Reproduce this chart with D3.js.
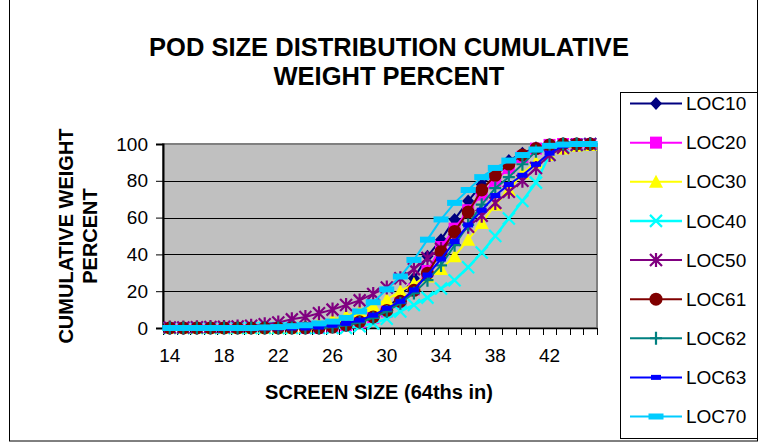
<!DOCTYPE html>
<html><head><meta charset="utf-8">
<script src="https://cdn.jsdelivr.net/npm/d3@7"></script>
<style>body{margin:0;background:#fff}svg{display:block}text{font-family:Arial,"Liberation Sans",sans-serif}</style>
</head><body>
<script>
const categories = [14,15,16,17,18,19,20,21,22,23,24,25,26,27,28,29,30,31,32,33,34,35,36,37,38,39,40,41,42,43,44,45];
const xTickLabels = [14,18,22,26,30,34,38,42];
const yTickValues = [0,20,40,60,80,100];
const seriesNames = ["LOC10","LOC20","LOC30","LOC40","LOC50","LOC61","LOC62","LOC63","LOC70"];
const LOC10 = [0,0,0,0,0,0,0,0,0,0,0,0,0.5,1.5,3.5,6.5,11,17,27,39,48,59,69,78,85,91,95,98,99.5,100,100,100];
const LOC20 = [0,0,0,0,0,0,0,0,0,0,0,0,0.5,1.5,3,5.5,9,14,21,31,44,54,64,72.5,80,87,93,97.5,99.5,100,100,100];
const LOC30 = [0,0,0,0,0,0,0,0,0,0,1,2.5,4.5,6.5,9,12,15.5,20,24,28,32,39,48,57,67,75,84,90,94,97.5,99,99.5];
const LOC40 = [0,0,0,0,0,0,0,0,0,0,0,0,0,0,1,2.5,5,9,12.5,16.5,21.5,26,33,41,50,59.5,69,79,94,98.5,99.5,100];
const LOC50 = [0.3,0.3,0.4,0.5,0.6,0.8,1.2,2,3,4.7,6,8,10,12.5,15,18.5,22,27,32,38,43,48,55,61,68,74,80,87,94,98,99.5,100];
const LOC61 = [0,0,0,0,0,0,0,0,0,0,0,0,0.5,1.5,3.4,6,9.5,14.5,20.5,29.7,41.5,52.5,63,75,83,89,94,97.5,99.5,100,100,100];
const LOC62 = [0,0,0,0,0,0,0,0,0,0,0,0,0.5,1.5,3,5.5,9,13.5,19,26,34,45,56,67,76,82,89,96,99.5,100,100,100];
const LOC63 = [0,0,0,0,0,0,0,0,0,0,0,0.5,1.5,2.5,4.3,7,10.7,14.5,20.7,28.8,37.5,47,56,64,72,78,83,89,95,99,100,100];
const LOC70 = [0,0,0,0,0,0,0,0.3,0.5,1,1.5,2.5,3.5,5.5,9,14,21,28,37,48,59,68,75,82,87,91,94,97,99,99.7,100,100];
const seriesValues = [LOC10,LOC20,LOC30,LOC40,LOC50,LOC61,LOC62,LOC63,LOC70];
const colors = ["#000080","#FF00FF","#FFFF00","#00FFFF","#800080","#800000","#008080","#0000FF","#00CCFF"];
const markerTypes = ["diamond","square","triangle","x","asterisk","circle","plus","smallbar","bigbar"];

const W = 761, H = 444;
const svg = d3.select("body").append("svg").attr("width", W).attr("height", H);

// outer chart border
svg.append("rect").attr("x", 9.5).attr("y", -1).attr("width", 748).attr("height", 442)
  .attr("fill", "#fff").attr("stroke", "#000").attr("stroke-width", 1);

const plot = {left: 163, right: 597, top: 144, bottom: 328};
const x = d3.scaleBand().domain(categories).range([plot.left, plot.right]).padding(0);
const y = d3.scaleLinear().domain([0, 100]).range([plot.bottom, plot.top]);
const cx = c => x(c) + x.bandwidth() / 2;

// plot area
svg.append("rect").attr("x", plot.left).attr("y", plot.top)
  .attr("width", plot.right - plot.left).attr("height", plot.bottom - plot.top)
  .attr("fill", "#C0C0C0").attr("stroke", "#808080").attr("stroke-width", 2);

// gridlines
svg.append("g").selectAll("line").data(yTickValues.filter(v => v > 0 && v < 100)).join("line")
  .attr("x1", plot.left).attr("x2", plot.right)
  .attr("y1", d => Math.round(y(d)) + 0.5).attr("y2", d => Math.round(y(d)) + 0.5)
  .attr("stroke", "#000").attr("stroke-width", 1);

// y axis
const yAxis = svg.append("g").attr("transform", `translate(${plot.left},0)`)
  .call(d3.axisLeft(y).tickValues(yTickValues).tickSize(7).tickPadding(8).tickFormat(d3.format("d")));
yAxis.select(".domain").attr("stroke", "#000").attr("stroke-width", 2);
yAxis.selectAll(".tick line").attr("stroke", "#000");
yAxis.selectAll("text").attr("font-size", 19).attr("fill", "#000").attr("font-family", "Arial, 'Liberation Sans', sans-serif");

// x axis
const xAxis = svg.append("g").attr("transform", `translate(0,${plot.bottom})`)
  .call(d3.axisBottom(x).tickValues(xTickLabels).tickSize(0).tickPadding(21));
xAxis.select(".domain").attr("stroke", "#000").attr("stroke-width", 1.5);
xAxis.selectAll("text").attr("font-size", 19).attr("fill", "#000").attr("font-family", "Arial, 'Liberation Sans', sans-serif");
const bounds = categories.map(c => x(c)).concat([plot.right]);
svg.append("g").selectAll("line").data(bounds).join("line")
  .attr("x1", d => Math.round(d) + 0.5).attr("x2", d => Math.round(d) + 0.5)
  .attr("y1", plot.bottom).attr("y2", plot.bottom + 7)
  .attr("stroke", "#000").attr("stroke-width", 1);

// marker drawing
function drawMarker(g, type, color, px, py) {
  switch (type) {
    case "diamond":
      g.append("path").attr("d", `M${px},${py-6.5}L${px+6},${py}L${px},${py+6.5}L${px-6},${py}Z`).attr("fill", color); break;
    case "square":
      g.append("rect").attr("x", px-6).attr("y", py-6).attr("width", 12).attr("height", 12).attr("fill", color); break;
    case "triangle":
      g.append("path").attr("d", `M${px},${py-7}L${px+7},${py+6}L${px-7},${py+6}Z`).attr("fill", color); break;
    case "x":
      g.append("path").attr("d", `M${px-6},${py-6}L${px+6},${py+6}M${px+6},${py-6}L${px-6},${py+6}`)
        .attr("stroke", color).attr("stroke-width", 2.2).attr("fill", "none"); break;
    case "asterisk":
      g.append("path").attr("d", `M${px-6},${py-6}L${px+6},${py+6}M${px+6},${py-6}L${px-6},${py+6}M${px},${py-7}L${px},${py+7}`)
        .attr("stroke", color).attr("stroke-width", 2.2).attr("fill", "none"); break;
    case "circle":
      g.append("circle").attr("cx", px).attr("cy", py).attr("r", 6.5).attr("fill", color); break;
    case "plus":
      g.append("path").attr("d", `M${px-6},${py}L${px+6},${py}M${px},${py-6.5}L${px},${py+6.5}`)
        .attr("stroke", color).attr("stroke-width", 2.2).attr("fill", "none"); break;
    case "smallbar":
      g.append("rect").attr("x", px-5).attr("y", py-2.5).attr("width", 10).attr("height", 5).attr("fill", color); break;
    case "bigbar":
      g.append("rect").attr("x", px-7.5).attr("y", py-3).attr("width", 15).attr("height", 6).attr("fill", color); break;
  }
}

const line = d3.line().x((d, i) => cx(categories[i])).y(d => y(d));
seriesValues.forEach((vals, si) => {
  const g = svg.append("g");
  g.append("path").datum(vals).attr("d", line).attr("fill", "none")
    .attr("stroke", colors[si]).attr("stroke-width", si === 3 ? 2.5 : 2);
  vals.forEach((v, i) => drawMarker(g, markerTypes[si], colors[si], cx(categories[i]), y(v)));
});

// legend
const lg = svg.append("g");
lg.append("rect").attr("x", 620.5).attr("y", 92.5).attr("width", 137).attr("height", 346)
  .attr("fill", "#fff").attr("stroke", "#000").attr("stroke-width", 1);
const legY = d3.scalePoint().domain(seriesNames).range([103.5, 416.5]);
seriesNames.forEach((name, si) => {
  const ly = legY(name);
  lg.append("line").attr("x1", 630).attr("x2", 682).attr("y1", ly).attr("y2", ly)
    .attr("stroke", colors[si]).attr("stroke-width", si === 3 ? 2.5 : 2);
  drawMarker(lg, markerTypes[si], colors[si], 656, ly);
  lg.append("text").attr("x", 686).attr("y", ly).attr("dy", "0.35em").attr("font-size", 19).attr("fill", "#000").text(name);
});

// titles
const title = svg.append("text").attr("x", 389).attr("text-anchor", "middle")
  .attr("font-size", 25.5).attr("font-weight", "bold").attr("fill", "#000");
title.append("tspan").attr("x", 389).attr("y", 56).text("POD SIZE DISTRIBUTION CUMULATIVE");
title.append("tspan").attr("x", 389).attr("y", 85).text("WEIGHT PERCENT");

svg.append("text").attr("x", 379).attr("y", 399).attr("text-anchor", "middle")
  .attr("font-size", 20).attr("font-weight", "bold").attr("fill", "#000").text("SCREEN SIZE (64ths in)");

const yt = svg.append("text").attr("transform", "translate(73,236) rotate(-90)").attr("text-anchor", "middle")
  .attr("font-size", 20).attr("font-weight", "bold").attr("fill", "#000");
yt.append("tspan").attr("x", 0).attr("y", 0).text("CUMULATIVE WEIGHT");
yt.append("tspan").attr("x", 0).attr("y", 24).text("PERCENT");
</script>
</body></html>
